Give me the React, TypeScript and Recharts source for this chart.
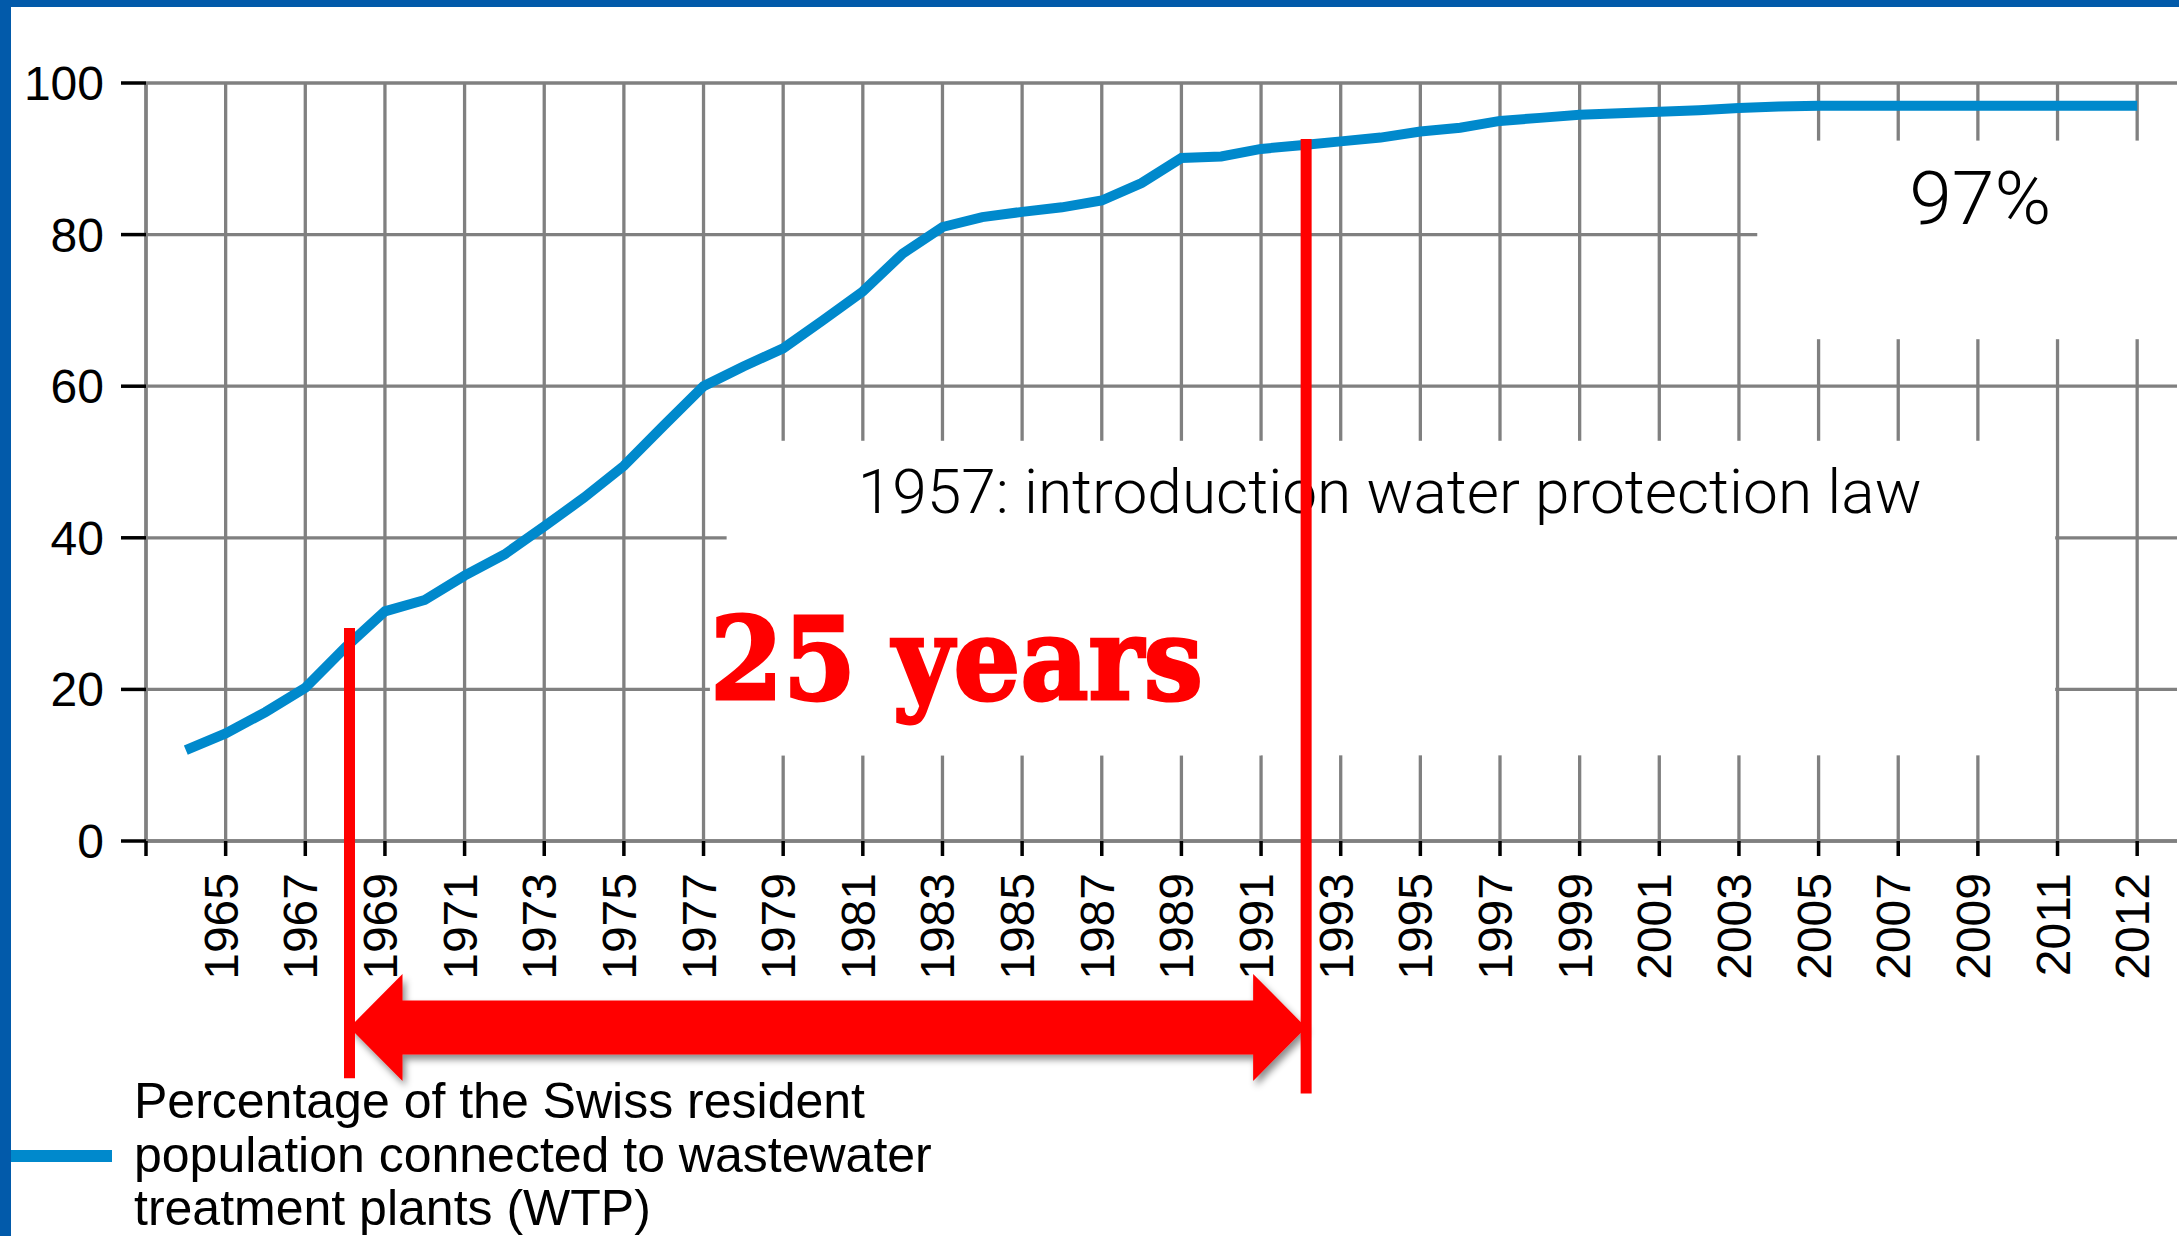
import { LineChart, Line, XAxis, YAxis, CartesianGrid, ReferenceArea, ReferenceLine, Legend } from 'recharts'

// share of the Swiss resident population connected to a WTP, in %
const years = [
  1964, 1965, 1966, 1967, 1968, 1969, 1970, 1971, 1972, 1973, 1974, 1975, 1976, 1977, 1978, 1979, 1980,
  1981, 1982, 1983, 1984, 1985, 1986, 1987, 1988, 1989, 1990, 1991, 1992, 1993, 1994, 1995, 1996, 1997,
  1998, 1999, 2000, 2001, 2002, 2003, 2004, 2005, 2006, 2007, 2008, 2009, 2010, 2011, 2012,
]
const connected = [
  12, 14.2, 17, 20.2, 25.5, 30.3, 31.8, 35, 37.8, 41.5, 45.3, 49.5, 54.8, 60, 62.6, 65, 68.7,
  72.5, 77.5, 81, 82.3, 83, 83.6, 84.5, 86.8, 90.1, 90.3, 91.3, 91.8, 92.3, 92.8, 93.6, 94.1, 95,
  95.4, 95.8, 96, 96.2, 96.4, 96.7, 96.9, 97, 97, 97, 97, 97, 97, 97, 97,
]

// one axis slot per label; first slot is the empty start of the axis
const xTickLabels = [
  '', '1965', '1967', '1969', '1971', '1973', '1975', '1977', '1979', '1981', '1983', '1985', '1987',
  '1989', '1991', '1993', '1995', '1997', '1999', '2001', '2003', '2005', '2007', '2009', '2011', '2012',
]
const yTicks = [0, 20, 40, 60, 80, 100]

const legendLines = [
  'Percentage of the Swiss resident',
  'population connected to wastewater',
  'treatment plants (WTP)',
]
const lawNote = '1957: introduction water protection law'
const finalNote = '97%'
const spanNote = '25 years'

const lastSlot = xTickLabels.length - 1
const slotOf = (year: number) => (year >= 2012 ? lastSlot : (year - 1963) / 2)

const data = years.map((year, i) => ({ year, slot: slotOf(year), pct: connected[i] }))
const xTicks = xTickLabels.map((_, i) => i)

const AXIS_FONT = '"Liberation Sans", Arial, Helvetica, sans-serif'
const NOTE_FONT = 'Roboto, "Liberation Sans", Arial, sans-serif'
const GRID = '#808080'
const RED = '#ff0000'
const BLUE = '#0089cc'

// annotation placement, in axis units
const spanStart = 2.555
const spanEnd = 14.566

function YearTick({ x, y, payload }: any) {
  const label = xTickLabels[payload?.value] ?? ''
  return (
    <g transform={`translate(${x},${y})`}>
      <text transform="rotate(-90)" x={-17} y={12} textAnchor="end" fontSize={48} fontFamily={AXIS_FONT} fill="#000">
        {label}
      </text>
    </g>
  )
}

function NoteBox({ x, y, width, height, text, dx, dy, size, length, font, weight, color, bleed = 0, thick = 0 }: any) {
  if (x == null) return null
  return (
    <g>
      <rect x={x} y={y} width={width + bleed} height={height} fill="#fff" />
      <text
        x={x + dx}
        y={y + dy}
        fontSize={size}
        fontFamily={font}
        fontWeight={weight}
        fill={color}
        stroke={thick ? color : 'none'}
        strokeWidth={thick}
        textLength={length}
        lengthAdjust="spacingAndGlyphs"
      >
        {text}
      </text>
    </g>
  )
}

function SpanArrow(props: any) {
  const { x1, y1, x2 } = props
  if (x1 == null) return null
  const l = Math.min(x1, x2)
  const r = Math.max(x1, x2)
  const shaft = 27
  const wing = 53.5
  const head = 53
  const pts = [
    [l, y1], [l + head, y1 - wing], [l + head, y1 - shaft], [r - head, y1 - shaft], [r - head, y1 - wing],
    [r, y1], [r - head, y1 + wing], [r - head, y1 + shaft], [l + head, y1 + shaft], [l + head, y1 + wing],
  ]
  return (
    <g>
      <defs>
        <filter id="arrowShade" x="-5%" y="-40%" width="110%" height="190%">
          <feDropShadow dx="3" dy="5" stdDeviation="3.5" floodColor="#000" floodOpacity="0.45" />
        </filter>
      </defs>
      <polygon points={pts.map((p) => p.join(',')).join(' ')} fill={RED} filter="url(#arrowShade)" />
    </g>
  )
}

function LegendBlock() {
  return (
    <svg width={1000} height={176} style={{ display: 'block' }}>
      <line x1={11} x2={112} y1={96} y2={96} stroke={BLUE} strokeWidth={12} />
      {legendLines.map((t, i) => (
        <text key={t} x={134} y={58 + i * 53.5} fontSize={50} fontFamily={AXIS_FONT} fill="#000">
          {t}
        </text>
      ))}
    </svg>
  )
}

export default function App() {
  return (
    <div style={{ position: 'absolute', left: 0, top: 0, width: 2179, height: 1236, background: '#fff', overflow: 'hidden' }}>
      <LineChart width={2179} height={1236} data={data} margin={{ top: 83, right: 2, bottom: 394, left: 145 }}>
        <CartesianGrid stroke={GRID} strokeWidth={3.3} syncWithTicks />
        <XAxis
          type="number"
          dataKey="slot"
          domain={[0, 25.5]}
          ticks={xTicks}
          interval={0}
          height={1}
          tickSize={15}
          tickMargin={0}
          allowDataOverflow
          axisLine={{ stroke: GRID, strokeWidth: 3.3 }}
          tickLine={{ stroke: '#000', strokeWidth: 3.5 }}
          tick={<YearTick />}
        />
        <YAxis
          type="number"
          domain={[0, 100]}
          ticks={yTicks}
          interval={0}
          width={1}
          tickSize={25}
          tickMargin={17}
          axisLine={{ stroke: GRID, strokeWidth: 3.3 }}
          tickLine={{ stroke: '#000', strokeWidth: 3.5 }}
          tick={{ fill: '#000', fontSize: 48, fontFamily: AXIS_FONT }}
        />
        <ReferenceArea
          x1={20.23}
          x2={25.5}
          y1={66.2}
          y2={92.4}
          zIndex={100}
          shape={(p: any) => (
            <NoteBox {...p} bleed={12} text={finalNote} dx={152} dy={83} size={74} length={142} font={NOTE_FONT} weight={300} color="#000" />
          )}
        />
        <ReferenceArea
          x1={7.29}
          x2={23.97}
          y1={11.3}
          y2={52.8}
          zIndex={100}
          shape={(p: any) => (
            <NoteBox {...p} text={lawNote} dx={131} dy={72} size={62} length={1064} font={NOTE_FONT} weight={300} color="#000" />
          )}
        />
        <ReferenceArea
          x1={7.08}
          x2={14}
          y1={11.3}
          y2={31.7}
          zIndex={100}
          shape={(p: any) => (
            <NoteBox {...p} text={spanNote} dx={0} dy={98} size={114} length={493} thick={3} font='"DejaVu Serif", "Liberation Serif", serif' weight={900} color={RED} />
          )}
        />
        <Line
          type="linear"
          dataKey="pct"
          stroke={BLUE}
          strokeWidth={10}
          dot={false}
          activeDot={false}
          isAnimationActive={false}
        />
        <ReferenceLine
          segment={[{ x: spanStart, y: 28.1 }, { x: spanStart, y: -31.3 }]}
          stroke={RED}
          strokeWidth={11}
          ifOverflow="visible"
          zIndex={700}
        />
        <ReferenceLine
          segment={[{ x: spanEnd, y: 92.6 }, { x: spanEnd, y: -33.3 }]}
          stroke={RED}
          strokeWidth={11}
          ifOverflow="visible"
          zIndex={700}
        />
        <ReferenceLine
          segment={[{ x: spanStart, y: -24.6 }, { x: spanEnd, y: -24.6 }]}
          ifOverflow="visible"
          zIndex={690}
          shape={(p: any) => <SpanArrow {...p} />}
        />
        <Legend
          layout="vertical"
          align="center"
          verticalAlign="middle"
          content={() => <LegendBlock />}
          wrapperStyle={{ position: 'absolute', left: 0, top: 1060, width: 1000, height: 176 }}
        />
      </LineChart>
      <div style={{ position: 'absolute', left: 0, top: 0, width: 2179, height: 7, background: '#025aaa' }} />
      <div style={{ position: 'absolute', left: 0, top: 0, width: 11, height: 1236, background: '#025aaa' }} />
    </div>
  )
}
